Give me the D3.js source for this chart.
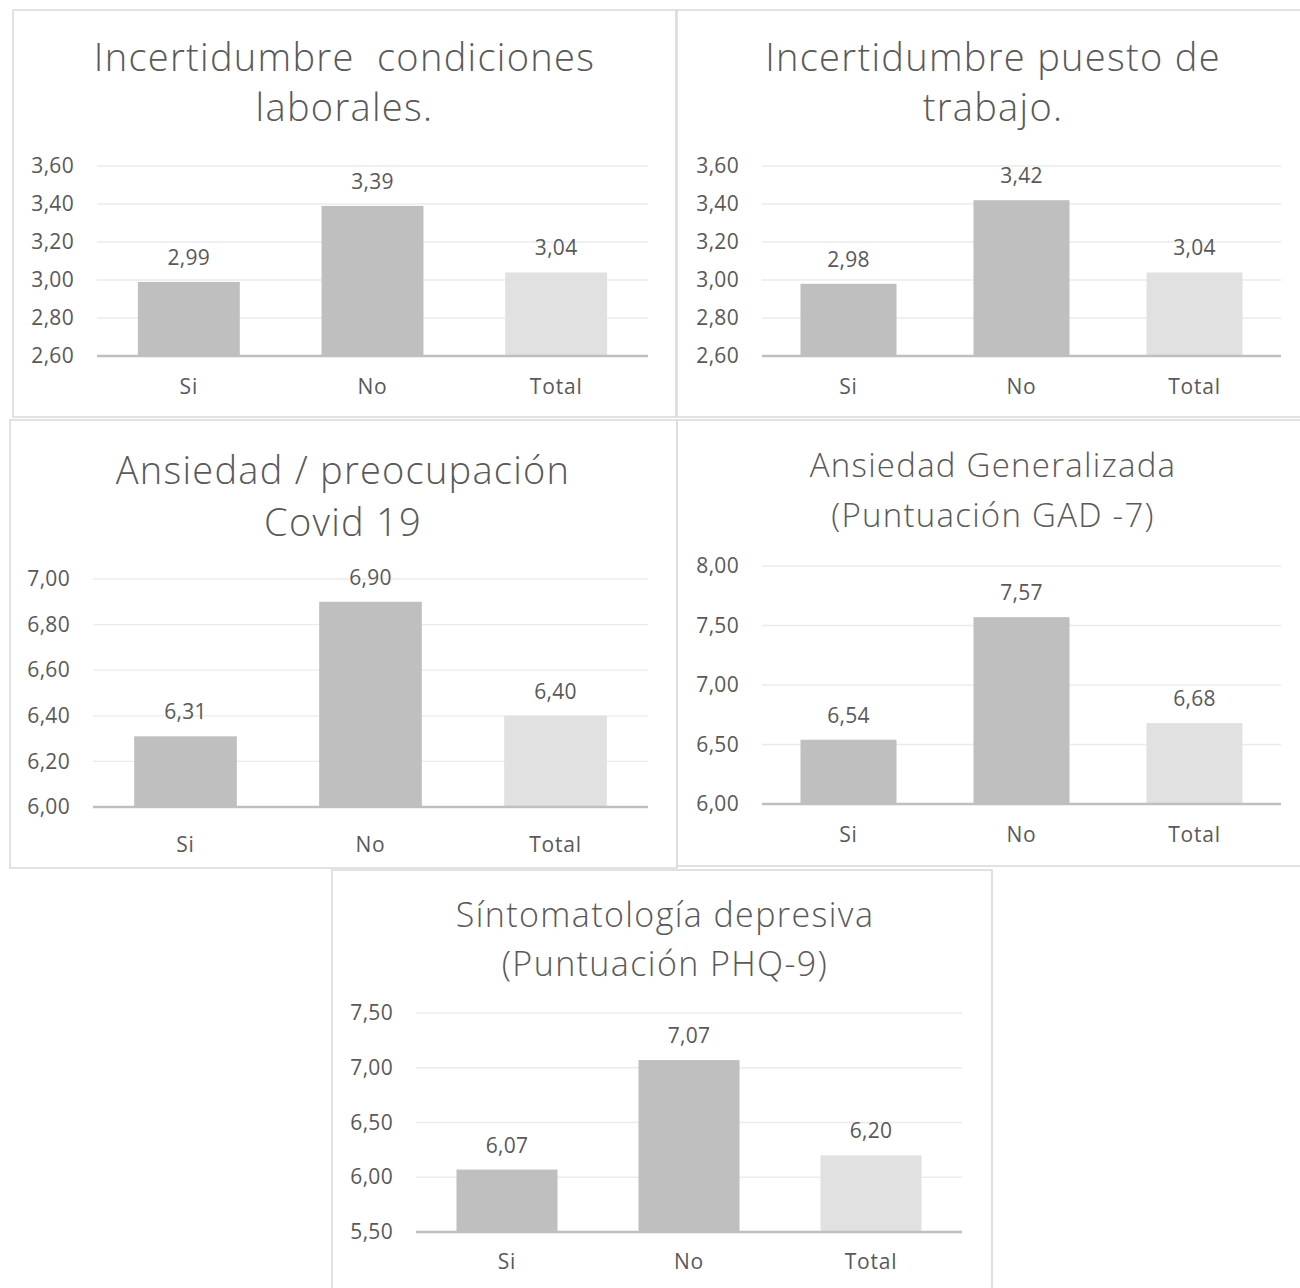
<!DOCTYPE html>
<html>
<head>
<meta charset="utf-8">
<script src="https://cdn.jsdelivr.net/npm/d3@7/dist/d3.min.js"></script>
<style>
  html, body { margin: 0; padding: 0; background: #fff; }
  svg { display: block; }
  text { font-family: "Open Sans", "DejaVu Sans", sans-serif; fill: #595959; }
</style>
</head>
<body>
<svg id="chart" width="1300" height="1288"></svg>
<script>
// ---------------- DATA ----------------
const categories = ["Si", "No", "Total"];

const titleLaborales = ["Incertidumbre  condiciones", "laborales."];
const valuesLaborales = [2.99, 3.39, 3.04];
const ticksLaborales = [2.60, 2.80, 3.00, 3.20, 3.40, 3.60];

const titlePuesto = ["Incertidumbre puesto de", "trabajo."];
const valuesPuesto = [2.98, 3.42, 3.04];
const ticksPuesto = [2.60, 2.80, 3.00, 3.20, 3.40, 3.60];

const titleCovid = ["Ansiedad / preocupación", "Covid 19"];
const valuesCovid = [6.31, 6.90, 6.40];
const ticksCovid = [6.00, 6.20, 6.40, 6.60, 6.80, 7.00];

const titleGAD = ["Ansiedad Generalizada", "(Puntuación GAD -7)"];
const valuesGAD = [6.54, 7.57, 6.68];
const ticksGAD = [6.00, 6.50, 7.00, 7.50, 8.00];

const titlePHQ = ["Síntomatología depresiva", "(Puntuación PHQ-9)"];
const valuesPHQ = [6.07, 7.07, 6.20];
const ticksPHQ = [5.50, 6.00, 6.50, 7.00, 7.50];

const barColors = ["#bfbfbf", "#bfbfbf", "#e1e1e1"];

// ---------------- LAYOUT ----------------
const panels = [
  { title: titleLaborales, values: valuesLaborales, ticks: ticksLaborales,
    box: [13, 10, 676, 417], px: [97, 648], py: [356, 166], tcx: 344.5,
    tb: [71, 121], tfs: 38, tls: 1.3, xlab: 394 },
  { title: titlePuesto, values: valuesPuesto, ticks: ticksPuesto,
    box: [677, 10, 1312, 417], px: [762, 1281], py: [356, 166], tcx: 993,
    tb: [71, 121], tfs: 38, tls: 1.3, xlab: 394 },
  { title: titleCovid, values: valuesCovid, ticks: ticksCovid,
    box: [10, 420, 677, 868], px: [93, 648], py: [807, 579], tcx: 343,
    tb: [484, 536], tfs: 38, tls: 1.25, xlab: 852 },
  { title: titleGAD, values: valuesGAD, ticks: ticksGAD,
    box: [677, 420, 1312, 866], px: [762, 1281], py: [804, 566], tcx: 993,
    tb: [477, 527], tfs: 33, tls: 1.25, xlab: 842 },
  { title: titlePHQ, values: valuesPHQ, ticks: ticksPHQ,
    box: [332, 870, 992, 1300], px: [416, 962], py: [1232, 1013], tcx: 665,
    tb: [927, 976], tfs: 34, tls: 1.4, xlab: 1269 }
];

const svg = d3.select("#chart");
const fmt = v => d3.format(".2f")(v).replace(".", ",");

panels.forEach(p => {
  const g = svg.append("g");
  const [x0, y0, x1, y1] = p.box;

  g.append("rect")
    .attr("x", x0).attr("y", y0)
    .attr("width", x1 - x0).attr("height", y1 - y0)
    .attr("fill", "#fff")
    .attr("stroke", "#d9d9d9").attr("stroke-width", 1.5);

  // title
  p.title.forEach((line, i) => {
    g.append("text")
      .attr("x", p.tcx).attr("y", p.tb[i])
      .attr("text-anchor", "middle")
      .style("white-space", "pre")
      .style("font-size", p.tfs + "px")
      .style("font-weight", 300)
      .style("letter-spacing", p.tls + "px")
      .text(line);
  });

  const x = d3.scaleBand().domain(categories).range(p.px).paddingInner(0.445).paddingOuter(0.2225);
  const y = d3.scaleLinear()
    .domain([p.ticks[0], p.ticks[p.ticks.length - 1]])
    .range(p.py);

  // gridlines
  g.append("g").selectAll("line")
    .data(p.ticks.slice(1))
    .join("line")
    .attr("x1", p.px[0]).attr("x2", p.px[1])
    .attr("y1", d => y(d)).attr("y2", d => y(d))
    .attr("stroke", "#ebebeb").attr("stroke-width", 1.3);

  // y tick labels
  const yAxis = d3.axisLeft(y).tickValues(p.ticks).tickFormat(fmt).tickSize(0).tickPadding(23);
  const ya = g.append("g").attr("transform", `translate(${p.px[0]},0)`).call(yAxis);
  ya.select(".domain").remove();
  ya.selectAll("text").style("font-size", "21px").style("letter-spacing", "0.3px")
    .attr("fill", "#595959").style("font-family", null);

  // bars
  g.append("g").selectAll("rect")
    .data(p.values)
    .join("rect")
    .attr("x", (d, i) => x(categories[i]))
    .attr("width", x.bandwidth())
    .attr("y", d => y(d))
    .attr("height", d => y(p.ticks[0]) - y(d))
    .attr("fill", (d, i) => barColors[i]);

  // value labels
  g.append("g").selectAll("text")
    .data(p.values)
    .join("text")
    .attr("x", (d, i) => x(categories[i]) + x.bandwidth() / 2)
    .attr("y", d => y(d) - 17)
    .attr("text-anchor", "middle")
    .style("font-size", "21px")
    .style("letter-spacing", "0.3px")
    .text(d => fmt(d));

  // x axis line
  g.append("line")
    .attr("x1", p.px[0]).attr("x2", p.px[1])
    .attr("y1", y(p.ticks[0])).attr("y2", y(p.ticks[0]))
    .attr("stroke", "#bfbfbf").attr("stroke-width", 2.5);

  // x labels
  g.append("g").selectAll("text")
    .data(categories)
    .join("text")
    .attr("x", d => x(d) + x.bandwidth() / 2)
    .attr("y", p.xlab)
    .attr("text-anchor", "middle")
    .style("font-size", "21px")
    .style("letter-spacing", "0.8px")
    .text(d => d);
});
</script>
</body>
</html>
